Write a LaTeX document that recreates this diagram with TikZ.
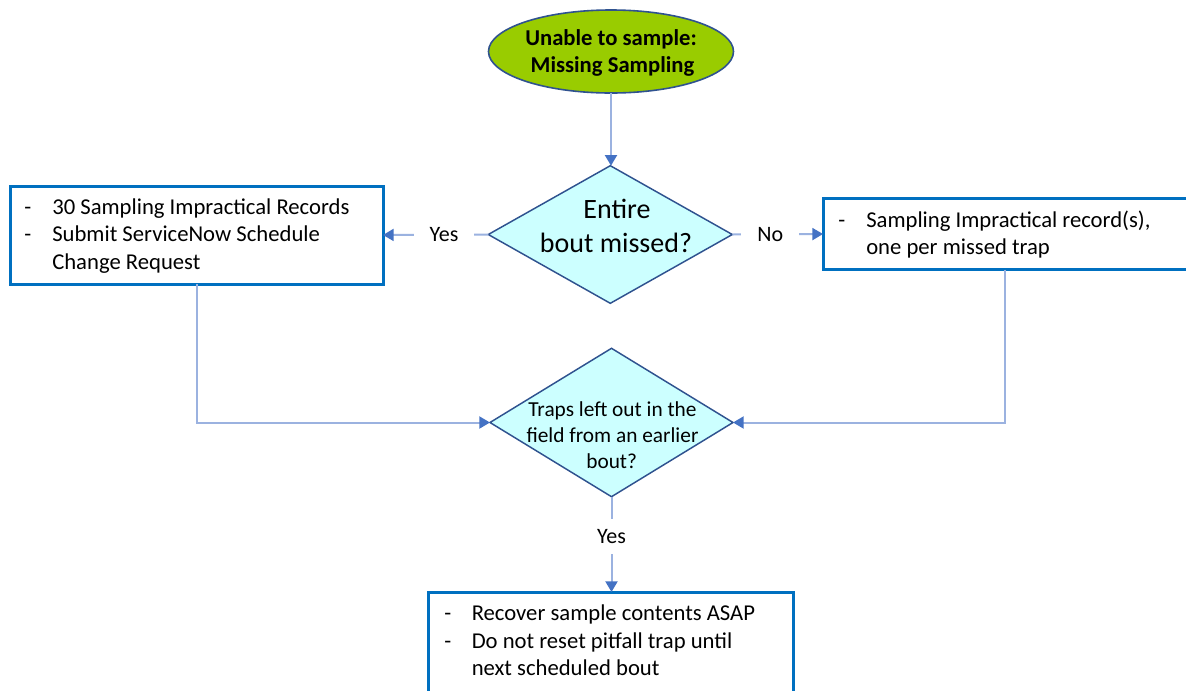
\documentclass[tikz,border=0pt]{standalone}
\usepackage{fontspec}
\setmainfont{Carlito}
\usetikzlibrary{shapes.geometric,arrows.meta,calc}
\definecolor{boxblue}{HTML}{0070C0}
\definecolor{lineblue}{HTML}{9BB2E0}
\definecolor{tipblue}{HTML}{4472C4}
\definecolor{shapeedge}{HTML}{2F528F}
\definecolor{startgreen}{HTML}{99CC00}
\definecolor{decfill}{HTML}{CCFFFF}
\begin{document}
\begin{tikzpicture}[x=0.75pt,y=-0.75pt,
  box/.style={draw=boxblue, line width=2.25pt, fill=white, inner sep=0pt, outer sep=0pt},
  startnode/.style={ellipse, draw=shapeedge, line width=1.2pt, fill=startgreen, inner sep=0pt,
     minimum width=183.75pt, minimum height=62.25pt, outer sep=0pt},
  decision/.style={diamond, draw=shapeedge, line width=1.1pt, fill=decfill, inner sep=0pt, outer sep=0pt},
  txt/.style={inner sep=0pt, anchor=base west, font=\fontsize{17}{20.7}\selectfont},
  ctxt/.style={inner sep=0pt, anchor=base},
  conn/.style={draw=lineblue, line width=1.5pt, -{Triangle[length=8pt,width=9pt,color=tipblue]}},
  lblh/.style={fill=white, inner xsep=12pt, inner ysep=2pt, font=\fontsize{16.5}{20}\selectfont},
  lblv/.style={fill=white, inner xsep=4pt, inner ysep=8pt, font=\fontsize{16.5}{20}\selectfont}]
\useasboundingbox (0,0) rectangle (1186,690);
\fill[white] (0,0) rectangle (1186,690);
\clip (0,0) rectangle (1186,690);

% shapes
\node[startnode] (start) at (611,51.5) {};
\node[decision, minimum width=183pt, minimum height=103.2pt] (d1) at (610.3,234.5) {};
\node[decision, minimum width=182.25pt, minimum height=111.3pt] (d2) at (611.5,422.5) {};
\node[box, minimum width=279.4pt, minimum height=73.5pt] (lb) at (196.75,235) {};
\node[box, minimum width=282pt, minimum height=53.25pt] (rb) at (1011,234) {};
\node[box, minimum width=273.75pt, minimum height=84.75pt] (bb) at (610.5,648.5) {};

% texts
\node[ctxt, font=\fontsize{17}{20.5}\selectfont\bfseries] (st1) at (611,45) {Unable to sample:};
\node[ctxt, font=\fontsize{17}{20.5}\selectfont\bfseries] (st2) at (612.5,72) {Missing Sampling};

\node[ctxt, font=\fontsize{21}{25}\selectfont] (d1a) at (617,218) {Entire};
\node[ctxt, font=\fontsize{21}{25}\selectfont] (d1b) at (616,252) {bout missed?};

\node[ctxt, font=\fontsize{16}{19.5}\selectfont] (d2a) at (612.5,416) {Traps left out in the};
\node[ctxt, font=\fontsize{16}{19.5}\selectfont] (d2b) at (612.5,442.5) {field from an earlier};
\node[ctxt, font=\fontsize{16}{19.5}\selectfont] (d2c) at (611.7,468.5) {bout?};

\node[txt] (lbd1) at (24,214) {-};
\node[txt] (lbd2) at (24,241.5) {-};
\node[txt] (lbt1) at (52,214) {30 Sampling Impractical Records};
\node[txt] (lbt2) at (52,241.5) {Submit ServiceNow Schedule};
\node[txt] (lbt3) at (52,269) {Change Request};

\node[txt] (rbd1) at (838,227.5) {-};
\node[txt] (rbt1) at (866,227.5) {Sampling Impractical record(s),};
\node[txt] (rbt2) at (866,254.5) {one per missed trap};

\node[txt] (bbd1) at (444,620.5) {-};
\node[txt] (bbd2) at (444,648) {-};
\node[txt] (bbt1) at (471.5,620.5) {Recover sample contents ASAP};
\node[txt] (bbt2) at (471.5,648) {Do not reset pitfall trap until};
\node[txt] (bbt3) at (471.5,675) {next scheduled bout};

% connectors
\draw[conn] (start.south) -- (start.south |- d1.north);
\draw[conn] (d1.west) -- node[lblh, pos=0.42] (yes1) {Yes} (lb.east);
\draw[conn] (d1.east) -- node[lblh, pos=0.42] (no1) {No} (rb.west);
\draw[conn] (lb.south) |- (d2.west);
\draw[conn] ($(rb.south)+(-6,0)$) |- (d2.east);
\draw[conn] (d2.south) -- node[lblv, pos=0.416] (yes2) {Yes} (d2.south |- bb.north);
\end{tikzpicture}
\end{document}
